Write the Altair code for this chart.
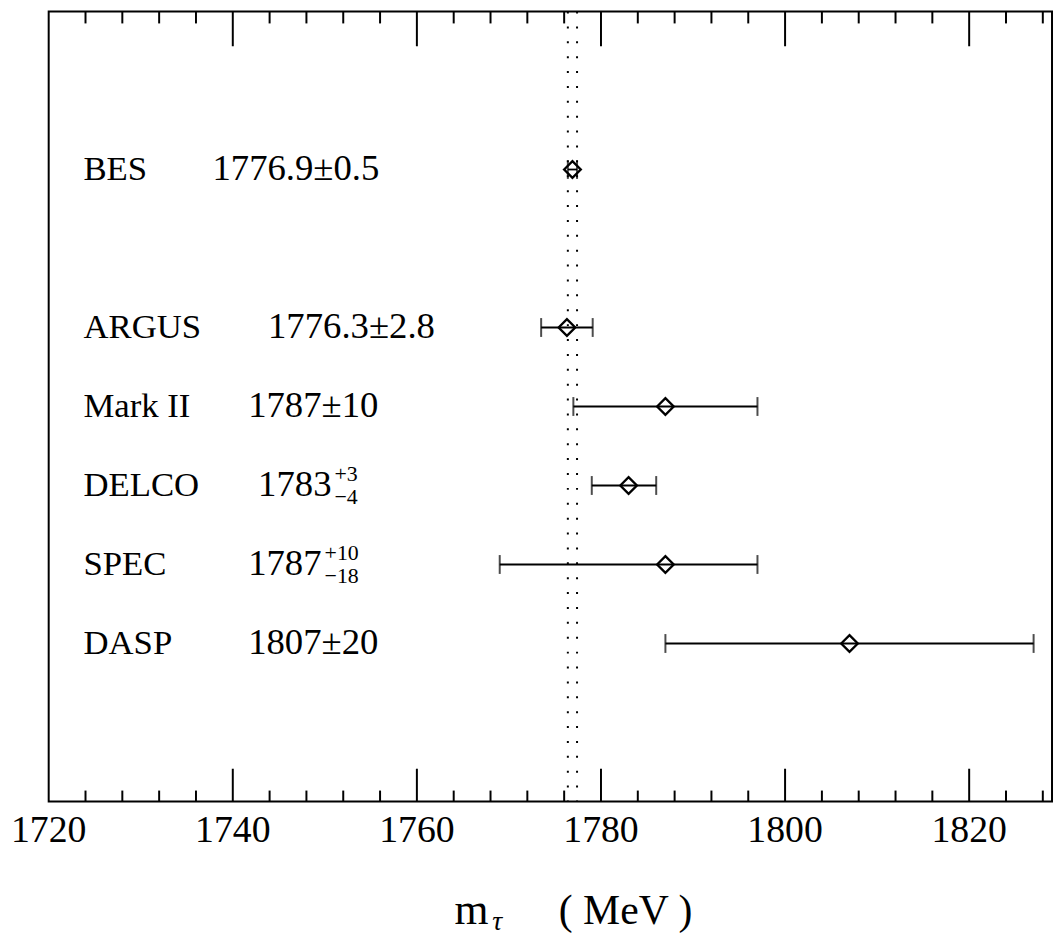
import altair as alt
import pandas as pd

# ---- data ----
experiments = ["BES", "ARGUS", "Mark II", "DELCO", "SPEC", "DASP"]
mass = [1776.9, 1776.3, 1787.0, 1783.0, 1787.0, 1807.0]
err_minus = [0.5, 2.8, 10.0, 4.0, 18.0, 20.0]
err_plus = [0.5, 2.8, 10.0, 3.0, 10.0, 20.0]
row = [8, 6, 5, 4, 3, 2]
value_text = ["1776.9\u00b10.5", "1776.3\u00b12.8", "1787\u00b110", "1783", "1787", "1807\u00b120"]
sup_text = ["", "", "", "+3", "+10", ""]
sub_text = ["", "", "", "\u22124", "\u221218", ""]
band_lines = [1776.4, 1777.4]
x_domain = [1720, 1829]
tick_label_values = [1720, 1740, 1760, 1780, 1800, 1820]
major_ticks = [1740, 1760, 1780, 1800, 1820]
minor_ticks = [1724, 1728, 1732, 1736, 1744, 1748, 1752, 1756, 1764, 1768, 1772, 1776,
               1784, 1788, 1792, 1796, 1804, 1808, 1812, 1816, 1824, 1828]

# ---- layout ----
W, H = 1011, 796
PAD_L = 41
FONT = "Liberation Serif"
NAME_FS = 35
VALUE_FS = 37
NAME_X = 35
value_x = [165, 221, 201, 211, 201, 201]

df = pd.DataFrame({
    "name": experiments,
    "m": mass,
    "lo": [m - e for m, e in zip(mass, err_minus)],
    "hi": [m + e for m, e in zip(mass, err_plus)],
    "row": row,
    "vtext": value_text,
    "sup": sup_text,
    "sub": sub_text,
    "vx": value_x,
})
df["sx"] = [x + len(t) * VALUE_FS * 0.5 + 3 for x, t in zip(value_x, value_text)]

xs = alt.Scale(domain=x_domain, nice=False, zero=False)
ys = alt.Scale(domain=[0, 10], nice=False, zero=False)

X = lambda f: alt.X(f, scale=xs, axis=None)
Y = lambda f: alt.Y(f, scale=ys, axis=None)

major_df = pd.DataFrame({"t": major_ticks})
minor_df = pd.DataFrame({"t": minor_ticks})
band_df = pd.DataFrame({"b": band_lines})
axis_df = pd.DataFrame({"t": tick_label_values, "lab": [str(v) for v in tick_label_values]})

tick_labels = alt.Chart(axis_df).mark_text(align="center", baseline="top", font=FONT,
                                           fontSize=38, color="black").encode(
    x=X("t:Q"), y=alt.value(H + 11), text="lab:N")

bot_major = alt.Chart(major_df).mark_rule(color="black", strokeWidth=2).encode(
    x=X("t:Q"), y=alt.value(H), y2=alt.value(H - 33))
top_major = alt.Chart(major_df).mark_rule(color="black", strokeWidth=2).encode(
    x=X("t:Q"), y=alt.value(0), y2=alt.value(35))
bot_minor = alt.Chart(minor_df).mark_rule(color="black", strokeWidth=2).encode(
    x=X("t:Q"), y=alt.value(H), y2=alt.value(H - 11))
top_minor = alt.Chart(minor_df).mark_rule(color="black", strokeWidth=2).encode(
    x=X("t:Q"), y=alt.value(0), y2=alt.value(12))

dotted = alt.Chart(band_df).mark_rule(color="black", strokeWidth=2, strokeDash=[2, 13]).encode(
    x=X("b:Q"), y=alt.value(0), y2=alt.value(H))

bars = alt.Chart(df).mark_rule(color="black", strokeWidth=1.8).encode(
    x=X("lo:Q"), x2="hi:Q", y=Y("row:Q"))
cap_lo = alt.Chart(df).mark_tick(color="black", orient="vertical", size=19, thickness=2).encode(
    x=X("lo:Q"), y=Y("row:Q"))
cap_hi = alt.Chart(df).mark_tick(color="black", orient="vertical", size=19, thickness=2).encode(
    x=X("hi:Q"), y=Y("row:Q"))
pts = alt.Chart(df).mark_point(shape="diamond", size=280, filled=False, color="black",
                                strokeWidth=2.4, opacity=1).encode(
    x=X("m:Q"), y=Y("row:Q"))

names = alt.Chart(df).mark_text(align="left", baseline="middle", font=FONT,
                                 fontSize=NAME_FS, color="black").encode(
    x=alt.value(NAME_X), y=Y("row:Q"), text="name:N")
values = alt.Chart(df).mark_text(align="left", baseline="middle", font=FONT,
                                  fontSize=VALUE_FS, color="black").encode(
    x=alt.X("vx:Q", scale=None), y=Y("row:Q"), text="vtext:N")
sups = alt.Chart(df).mark_text(align="left", baseline="middle", font=FONT, fontSize=22,
                                color="black", dy=-12).encode(
    x=alt.X("sx:Q", scale=None), y=Y("row:Q"), text="sup:N")
subs = alt.Chart(df).mark_text(align="left", baseline="middle", font=FONT, fontSize=22,
                                color="black", dy=12).encode(
    x=alt.X("sx:Q", scale=None), y=Y("row:Q"), text="sub:N")

title_df = pd.DataFrame({"a": ["m"], "b": ["\u03c4"], "c": ["(  MeV  )"]})
t_m = alt.Chart(title_df).mark_text(align="left", baseline="alphabetic", font=FONT,
                                     fontSize=44, color="black").encode(
    x=alt.value(409), y=alt.value(919), text="a:N")
t_tau = alt.Chart(title_df).mark_text(align="left", baseline="alphabetic", font=FONT,
                                       fontSize=28, fontStyle="italic", color="black").encode(
    x=alt.value(447), y=alt.value(926), text="b:N")
t_rest = alt.Chart(title_df).mark_text(align="left", baseline="alphabetic", font=FONT,
                                        fontSize=42, color="black").encode(
    x=alt.value(514), y=alt.value(919), text="c:N")

chart = alt.layer(
    dotted, bot_major, top_major, bot_minor, top_minor,
    bars, cap_lo, cap_hi, pts, names, values, sups, subs, tick_labels, t_m, t_tau, t_rest
).properties(
    width=W, height=H,
    padding={"left": PAD_L, "top": 0, "right": 2, "bottom": 132},
    autosize=alt.AutoSizeParams(type="none"),
    background="white",
).configure_view(stroke="black", strokeWidth=2)

chart.save("out.html", embed_options={"renderer": "svg", "actions": False})
